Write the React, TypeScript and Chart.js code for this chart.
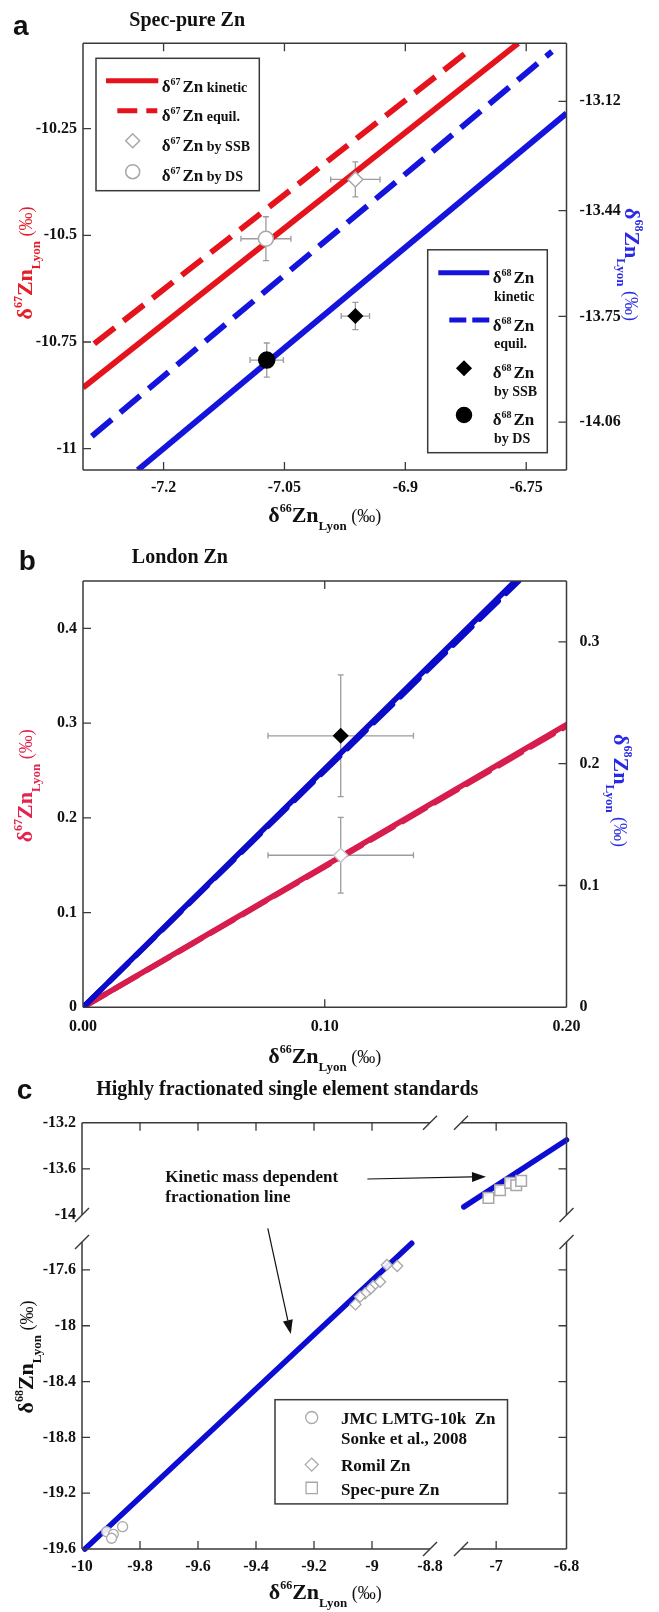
import React, { useEffect, useRef } from 'react';
import { Chart, registerables } from 'chart.js';

Chart.register(...registerables);

const SERIF = '"Liberation Serif", "Times New Roman", serif';
const SANS = '"Liberation Sans", Arial, sans-serif';

// ---------------- Panel a : Spec-pure Zn ----------------
const A_X_TICKS = [-7.2, -7.05, -6.9, -6.75];
const A_X_LABELS = ['-7.2', '-7.05', '-6.9', '-6.75'];
const A_Y67_TICKS = [-10.25, -10.5, -10.75, -11];
const A_Y67_LABELS = ['-10.25', '-10.5', '-10.75', '-11'];
const A_Y68_TICKS = [-13.12, -13.44, -13.75, -14.06];
const A_Y68_LABELS = ['-13.12', '-13.44', '-13.75', '-14.06'];
const A_KIN67_X = [-7.3, -6.76];
const A_KIN67_Y = [-10.857, -10.05];
const A_EQ67_X = [-7.286, -6.817];
const A_EQ67_Y = [-10.754, -10.061];
const A_KIN68_X = [-7.232, -6.7];
const A_KIN68_Y = [-14.2, -13.155];
const A_EQ68_X = [-7.289, -6.718];
const A_EQ68_Y = [-14.101, -12.974];
// measured points: [by SSB, by DS]
const A_D67_X = [-6.962, -7.073];
const A_D67_Y = [-10.369, -10.508];
const A_D67_XERR = [0.0306, 0.031];
const A_D67_YERR = [0.041, 0.0515];
const A_D68_X = [-6.962, -7.072];
const A_D68_Y = [-13.749, -13.878];
const A_D68_XERR = [0.0176, 0.0207];
const A_D68_YERR = [0.04, 0.05];

// ---------------- Panel b : London Zn ----------------
const B_X_TICKS = [0, 0.1, 0.2];
const B_X_LABELS = ['0.00', '0.10', '0.20'];
const B_Y67_TICKS = [0, 0.1, 0.2, 0.3, 0.4];
const B_Y67_LABELS = ['0', '0.1', '0.2', '0.3', '0.4'];
const B_Y68_TICKS = [0, 0.1, 0.2, 0.3];
const B_Y68_LABELS = ['0', '0.1', '0.2', '0.3'];
const B_KIN67_X = [0, 0.2];
const B_KIN67_Y = [0, 0.2985];
const B_EQ67_X = [0, 0.2];
const B_EQ67_Y = [0, 0.2968];
const B_KIN68_X = [0, 0.1788];
const B_KIN68_Y = [0, 0.35];
const B_EQ68_X = [0, 0.1802];
const B_EQ68_Y = [0, 0.35];
const B_SSB67_X = [0.1066];
const B_SSB67_Y = [0.1605];
const B_SSB67_XERR = [0.0301];
const B_SSB67_YERR = [0.04];
const B_SSB68_X = [0.1066];
const B_SSB68_Y = [0.2229];
const B_SSB68_XERR = [0.0301];
const B_SSB68_YERR = [0.05];

// ---------------- Panel c : Highly fractionated standards ----------------
const C_L_X_TICKS = [-10, -9.8, -9.6, -9.4, -9.2, -9, -8.8];
const C_L_X_LABELS = ['-10', '-9.8', '-9.6', '-9.4', '-9.2', '-9', '-8.8'];
const C_R_X_TICKS = [-7, -6.8];
const C_R_X_LABELS = ['-7', '-6.8'];
const C_T_Y_TICKS = [-13.2, -13.6, -14];
const C_T_Y_LABELS = ['-13.2', '-13.6', '-14'];
const C_B_Y_TICKS = [-17.6, -18, -18.4, -18.8, -19.2, -19.6];
const C_B_Y_LABELS = ['-17.6', '-18', '-18.4', '-18.8', '-19.2', '-19.6'];
const C_LINE_B_X = [-9.99, -8.863];
const C_LINE_B_Y = [-19.6, -17.409];
const C_LINE_T_X = [-7.092, -6.8];
const C_LINE_T_Y = [-13.93, -13.35];
const C_JMC_X = [-9.915, -9.892, -9.898, -9.86];
const C_JMC_Y = [-19.476, -19.495, -19.523, -19.44];
const C_ROMIL_X = [-8.949, -8.913, -8.972, -8.996, -9.007, -9.024, -9.041, -9.057];
const C_ROMIL_Y = [-17.565, -17.572, -17.685, -17.715, -17.739, -17.768, -17.792, -17.847];
const C_SPEC_X = [-7.022, -6.989, -6.96, -6.943, -6.929];
const C_SPEC_Y = [-13.852, -13.785, -13.722, -13.742, -13.704];

// ---------------- styles ----------------
const RED = '#e5141c';
const BLUE = '#1414dc';
const CRIMSON = '#d61d4e';
const BLUE_B = '#0c0cc8';
const BLUE_C = '#0c0cd2';
const RED_T = '#e61e28';
const BLUE_T = '#2a2ae6';
const CRIMSON_T = '#e3244f';
const GRAY_MK = '#a8a8a8';
const ERR = '#9c9c9c';
const FRAME = '#3a3a3a';
const INK = '#111111';

type Seg = { t: string; f: string; dy?: number; dx?: number; c?: string };
const B = (px: number) => `bold ${px}px ${SERIF}`;
const N = (px: number) => `${px}px ${SERIF}`;

function rich(ctx: any, x: number, y: number, segs: Seg[], rot = 0, align = 'left', color = INK) {
  ctx.save();
  ctx.translate(x, y);
  ctx.rotate(rot);
  ctx.textBaseline = 'alphabetic';
  ctx.textAlign = 'left';
  const widths = segs.map((s) => {
    ctx.font = s.f;
    return ctx.measureText(s.t).width + (s.dx || 0);
  });
  const total = widths.reduce((p, q) => p + q, 0);
  let cx = align === 'center' ? -total / 2 : 0;
  segs.forEach((s, i) => {
    ctx.font = s.f;
    ctx.fillStyle = s.c || color;
    ctx.fillText(s.t, cx + (s.dx || 0), s.dy || 0);
    cx += widths[i];
  });
  ctx.restore();
}

function deltaTitle(iso: string): Seg[] {
  return [
    { t: 'δ', f: B(22) },
    { t: iso, f: B(12), dy: -10 },
    { t: 'Zn', f: B(22) },
    { t: 'Lyon', f: B(13), dy: 8 },
    { t: ' (‰)', f: N(18) },
  ];
}

function dl(iso: string, rest?: string): Seg[] {
  const s: Seg[] = [
    { t: 'δ', f: B(17) },
    { t: iso, f: B(10), dy: -7 },
    { t: 'Zn', f: B(17), dx: 2 },
  ];
  if (rest) s.push({ t: ' ' + rest, f: B(14) });
  return s;
}

function frameSides(ctx: any, a: any, sides: string) {
  ctx.save();
  ctx.strokeStyle = FRAME;
  ctx.lineWidth = 1.5;
  ctx.beginPath();
  if (sides.includes('t')) { ctx.moveTo(a.left, a.top); ctx.lineTo(a.right, a.top); }
  if (sides.includes('b')) { ctx.moveTo(a.left, a.bottom); ctx.lineTo(a.right, a.bottom); }
  if (sides.includes('l')) { ctx.moveTo(a.left, a.top); ctx.lineTo(a.left, a.bottom); }
  if (sides.includes('r')) { ctx.moveTo(a.right, a.top); ctx.lineTo(a.right, a.bottom); }
  ctx.stroke();
  ctx.restore();
}

function innerTicks(ctx: any, chart: any, id: string, sides: string[], vals: number[], len = 8) {
  const s = chart.scales[id];
  const a = chart.chartArea;
  ctx.save();
  ctx.strokeStyle = FRAME;
  ctx.lineWidth = 1.3;
  ctx.beginPath();
  vals.forEach((v) => {
    if (v <= s.min + 1e-9 || v >= s.max - 1e-9) return;
    const p = s.getPixelForValue(v);
    sides.forEach((side) => {
      if (side === 'bottom') { ctx.moveTo(p, a.bottom); ctx.lineTo(p, a.bottom - len); }
      else if (side === 'top') { ctx.moveTo(p, a.top); ctx.lineTo(p, a.top + len); }
      else if (side === 'left') { ctx.moveTo(a.left, p); ctx.lineTo(a.left + len, p); }
      else { ctx.moveTo(a.right, p); ctx.lineTo(a.right - len, p); }
    });
  });
  ctx.stroke();
  ctx.restore();
}

function slash(ctx: any, x: number, y: number) {
  ctx.save();
  ctx.strokeStyle = FRAME;
  ctx.lineWidth = 1.5;
  ctx.beginPath();
  ctx.moveTo(x - 7, y + 7);
  ctx.lineTo(x + 7, y - 7);
  ctx.stroke();
  ctx.restore();
}

function errBars(ctx: any, chart: any, yId: string, xs: number[], ys: number[], exs: number[], eys: number[]) {
  const sx = chart.scales.x;
  const sy = chart.scales[yId];
  ctx.save();
  ctx.strokeStyle = ERR;
  ctx.lineWidth = 1.3;
  const cap = 3;
  xs.forEach((x, i) => {
    const px = sx.getPixelForValue(x);
    const py = sy.getPixelForValue(ys[i]);
    const x0 = sx.getPixelForValue(x - exs[i]);
    const x1 = sx.getPixelForValue(x + exs[i]);
    const y0 = sy.getPixelForValue(ys[i] - eys[i]);
    const y1 = sy.getPixelForValue(ys[i] + eys[i]);
    ctx.beginPath();
    ctx.moveTo(x0, py); ctx.lineTo(x1, py);
    ctx.moveTo(px, y0); ctx.lineTo(px, y1);
    ctx.moveTo(x0, py - cap); ctx.lineTo(x0, py + cap);
    ctx.moveTo(x1, py - cap); ctx.lineTo(x1, py + cap);
    ctx.moveTo(px - cap, y0); ctx.lineTo(px + cap, y0);
    ctx.moveTo(px - cap, y1); ctx.lineTo(px + cap, y1);
    ctx.stroke();
  });
  ctx.restore();
}

function marker(ctx: any, style: string, x: number, y: number, r: number, fill: string, stroke: string, lw = 1.5) {
  ctx.save();
  ctx.beginPath();
  if (style === 'circle') ctx.arc(x, y, r, 0, Math.PI * 2);
  else if (style === 'diamond') {
    ctx.moveTo(x - r, y); ctx.lineTo(x, y - r); ctx.lineTo(x + r, y); ctx.lineTo(x, y + r); ctx.closePath();
  } else {
    const h = r * Math.SQRT1_2;
    ctx.rect(x - h, y - h, 2 * h, 2 * h);
  }
  ctx.fillStyle = fill;
  ctx.fill();
  ctx.lineWidth = lw;
  ctx.strokeStyle = stroke;
  ctx.stroke();
  ctx.restore();
}

function hline(ctx: any, x0: number, x1: number, y: number, color: string, w: number, dash: number[]) {
  ctx.save();
  ctx.strokeStyle = color;
  ctx.lineWidth = w;
  ctx.setLineDash(dash);
  ctx.beginPath();
  ctx.moveTo(x0, y);
  ctx.lineTo(x1, y);
  ctx.stroke();
  ctx.restore();
}

function box(ctx: any, x0: number, y0: number, x1: number, y1: number) {
  ctx.save();
  ctx.fillStyle = '#ffffff';
  ctx.fillRect(x0, y0, x1 - x0, y1 - y0);
  ctx.strokeStyle = FRAME;
  ctx.lineWidth = 1.5;
  ctx.strokeRect(x0, y0, x1 - x0, y1 - y0);
  ctx.restore();
}

function arrow(ctx: any, x0: number, y0: number, x1: number, y1: number, head = 14, half = 5) {
  const ang = Math.atan2(y1 - y0, x1 - x0);
  const bx = x1 - head * Math.cos(ang);
  const by = y1 - head * Math.sin(ang);
  ctx.save();
  ctx.strokeStyle = '#111';
  ctx.fillStyle = '#111';
  ctx.lineWidth = 1.2;
  ctx.beginPath();
  ctx.moveTo(x0, y0);
  ctx.lineTo(bx, by);
  ctx.stroke();
  ctx.beginPath();
  ctx.moveTo(x1, y1);
  ctx.lineTo(bx + half * Math.sin(ang), by - half * Math.cos(ang));
  ctx.lineTo(bx - half * Math.sin(ang), by + half * Math.cos(ang));
  ctx.closePath();
  ctx.fill();
  ctx.restore();
}

function axis(position: string, min: number, max: number, ticks: number[], labels: string[] | null, size: number, pad = 6) {
  const horiz = position === 'bottom' || position === 'top';
  return {
    type: 'linear',
    position,
    min,
    max,
    afterBuildTicks: (s: any) => {
      s.ticks = ticks.map((v) => ({ value: v }));
    },
    afterFit: (s: any) => {
      if (horiz) s.height = size;
      else s.width = size;
    },
    grid: { display: false, drawTicks: false },
    border: { display: false },
    ticks: {
      display: labels !== null,
      autoSkip: false,
      maxRotation: 0,
      minRotation: 0,
      padding: pad,
      color: INK,
      font: { family: SERIF, size: 16, weight: 'bold' },
      callback: (_v: any, i: number) => (labels ? labels[i] : ''),
    },
  };
}

const pts = (xs: number[], ys: number[]) => xs.map((x, i) => ({ x, y: ys[i] }));

function lineSet(xs: number[], ys: number[], color: string, width: number, dash: number[], yAxisID = 'y', cap = 'butt', clip: any = 0) {
  return {
    type: 'scatter',
    data: pts(xs, ys),
    showLine: true,
    borderColor: color,
    backgroundColor: color,
    borderWidth: width,
    borderDash: dash,
    borderCapStyle: cap,
    pointRadius: 0,
    pointHoverRadius: 0,
    pointHitRadius: 0,
    xAxisID: 'x',
    yAxisID,
    clip,
    order: 5,
  };
}

function pointSet(xs: number[], ys: number[], style: string, r: number, fill: string, stroke: string, yAxisID = 'y', lw = 1.5) {
  return {
    type: 'scatter',
    data: pts(xs, ys),
    showLine: false,
    pointStyle: style,
    pointRadius: r,
    pointHoverRadius: r,
    pointBackgroundColor: fill,
    pointBorderColor: stroke,
    pointBorderWidth: lw,
    backgroundColor: fill,
    borderColor: stroke,
    borderWidth: lw,
    xAxisID: 'x',
    yAxisID,
    clip: false,
    order: 1,
  };
}

function makeChart(canvas: any, padding: any, scales: any, datasets: any[], plugin: any) {
  return new Chart(canvas, {
    type: 'scatter',
    data: { datasets },
    options: {
      responsive: false,
      maintainAspectRatio: false,
      animation: false,
      events: [],
      layout: { padding },
      plugins: { legend: { display: false }, tooltip: { enabled: false } },
      scales,
    },
    plugins: [plugin],
  } as any);
}

// ---------------- Panel builders ----------------
function buildA(canvas: any) {
  const W = 659, H = 545;
  const plugin = {
    id: 'decoA',
    beforeDatasetsDraw(chart: any) {
      const ctx = chart.ctx;
      errBars(ctx, chart, 'y', A_D67_X, A_D67_Y, A_D67_XERR, A_D67_YERR);
      errBars(ctx, chart, 'y2', A_D68_X, A_D68_Y, A_D68_XERR, A_D68_YERR);
    },
    afterDraw(chart: any) {
      const ctx = chart.ctx;
      const a = chart.chartArea;
      frameSides(ctx, a, 'tblr');
      innerTicks(ctx, chart, 'x', ['bottom', 'top'], A_X_TICKS);
      innerTicks(ctx, chart, 'y', ['left'], A_Y67_TICKS);
      innerTicks(ctx, chart, 'y2', ['right'], A_Y68_TICKS);
      // legend 1
      box(ctx, 96, 58.3, 259.3, 190.7);
      hline(ctx, 106, 158.3, 80.7, RED, 5, []);
      rich(ctx, 161.7, 91.7, dl('67', 'kinetic'));
      hline(ctx, 117.3, 157.3, 110.7, RED, 5, [20, 9]);
      rich(ctx, 161.7, 120.7, dl('67', 'equil.'));
      marker(ctx, 'diamond', 132.7, 140.7, 7, '#ffffff', GRAY_MK);
      rich(ctx, 161.7, 150.7, dl('67', 'by SSB'));
      marker(ctx, 'circle', 132.7, 171.7, 7, '#ffffff', GRAY_MK);
      rich(ctx, 161.7, 180.7, dl('67', 'by DS'));
      // legend 2
      box(ctx, 427.7, 249.8, 547.3, 452.7);
      hline(ctx, 438.3, 489.3, 272.7, BLUE, 5, []);
      rich(ctx, 492.7, 283.3, dl('68'));
      rich(ctx, 494, 300.7, [{ t: 'kinetic', f: B(14) }]);
      hline(ctx, 449.3, 489.3, 320, BLUE, 5, [17, 6]);
      rich(ctx, 492.7, 330.7, dl('68'));
      rich(ctx, 494, 348.3, [{ t: 'equil.', f: B(14) }]);
      marker(ctx, 'diamond', 464, 368.3, 7, '#000000', '#000000');
      rich(ctx, 492.7, 378.3, dl('68'));
      rich(ctx, 494, 396, [{ t: 'by SSB', f: B(14) }]);
      marker(ctx, 'circle', 464, 415, 7.5, '#000000', '#000000');
      rich(ctx, 492.7, 425, dl('68'));
      rich(ctx, 494, 442.7, [{ t: 'by DS', f: B(14) }]);
      // titles
      rich(ctx, 13, 35, [{ t: 'a', f: `bold 28px ${SANS}` }]);
      rich(ctx, 129.3, 26, [{ t: 'Spec-pure Zn', f: B(20) }]);
      rich(ctx, (a.left + a.right) / 2, 522, deltaTitle('66'), 0, 'center');
      rich(ctx, 31.5, 263, deltaTitle('67'), -Math.PI / 2, 'center', RED_T);
      rich(ctx, 625, 264.5, deltaTitle('68'), Math.PI / 2, 'center', BLUE_T);
    },
  };
  return makeChart(
    canvas,
    { top: 43.3, left: 0, right: 0, bottom: 0 },
    {
      x: axis('bottom', -7.3, -6.7, A_X_TICKS, A_X_LABELS, H - 470, 8),
      y: axis('left', -11.05, -10.05, A_Y67_TICKS, A_Y67_LABELS, 83, 6),
      y2: axis('right', -14.2, -12.95, A_Y68_TICKS, A_Y68_LABELS, W - 566.5, 13),
    },
    [
      pointSet([A_D67_X[0]], [A_D67_Y[0]], 'rectRot', 7.5, '#ffffff', GRAY_MK, 'y'),
      pointSet([A_D67_X[1]], [A_D67_Y[1]], 'circle', 7.5, '#ffffff', GRAY_MK, 'y'),
      pointSet([A_D68_X[0]], [A_D68_Y[0]], 'rectRot', 7, '#000000', '#000000', 'y2'),
      pointSet([A_D68_X[1]], [A_D68_Y[1]], 'circle', 8, '#000000', '#000000', 'y2'),
      lineSet(A_KIN67_X, A_KIN67_Y, RED, 5.8, [], 'y'),
      lineSet(A_EQ67_X, A_EQ67_Y, RED, 5.8, [26, 11], 'y'),
      lineSet(A_KIN68_X, A_KIN68_Y, BLUE, 5.8, [], 'y2'),
      lineSet(A_EQ68_X, A_EQ68_Y, BLUE, 5.8, [26, 11], 'y2'),
    ],
    plugin
  );
}

function buildB(canvas: any) {
  const W = 659, H = 530;
  const plugin = {
    id: 'decoB',
    beforeDatasetsDraw(chart: any) {
      const ctx = chart.ctx;
      errBars(ctx, chart, 'y', B_SSB67_X, B_SSB67_Y, B_SSB67_XERR, B_SSB67_YERR);
      errBars(ctx, chart, 'y2', B_SSB68_X, B_SSB68_Y, B_SSB68_XERR, B_SSB68_YERR);
    },
    afterDraw(chart: any) {
      const ctx = chart.ctx;
      const a = chart.chartArea;
      frameSides(ctx, a, 'tblr');
      innerTicks(ctx, chart, 'x', ['bottom', 'top'], B_X_TICKS);
      innerTicks(ctx, chart, 'y', ['left'], B_Y67_TICKS);
      innerTicks(ctx, chart, 'y2', ['right'], B_Y68_TICKS);
      rich(ctx, 18.8, 25, [{ t: 'b', f: `bold 28px ${SANS}` }]);
      rich(ctx, 131.8, 18.3, [{ t: 'London Zn', f: B(20) }]);
      rich(ctx, (a.left + a.right) / 2, 518, deltaTitle('66'), 0, 'center');
      rich(ctx, 31.5, 240.8, deltaTitle('67'), -Math.PI / 2, 'center', CRIMSON_T);
      rich(ctx, 614, 245.6, deltaTitle('68'), Math.PI / 2, 'center', BLUE_T);
    },
  };
  return makeChart(
    canvas,
    { top: 36, left: 0, right: 0, bottom: 0 },
    {
      x: axis('bottom', 0, 0.2, B_X_TICKS, B_X_LABELS, H - 462.3, 10),
      y: axis('left', 0, 0.45, B_Y67_TICKS, B_Y67_LABELS, 83, 6),
      y2: axis('right', 0, 0.35, B_Y68_TICKS, B_Y68_LABELS, W - 566.5, 13),
    },
    [
      pointSet(B_SSB68_X, B_SSB68_Y, 'rectRot', 7, '#000000', '#000000', 'y2'),
      pointSet(B_SSB67_X, B_SSB67_Y, 'rectRot', 7, '#ffffff', '#c8c8c8', 'y'),
      lineSet(B_KIN68_X, B_KIN68_Y, BLUE_B, 5.5, [], 'y2', 'round'),
      lineSet(B_EQ68_X, B_EQ68_Y, BLUE_B, 5.5, [26, 11], 'y2', 'round'),
      lineSet(B_KIN67_X, B_KIN67_Y, CRIMSON, 5.5, [], 'y', 'round'),
      lineSet(B_EQ67_X, B_EQ67_Y, CRIMSON, 5.5, [26, 11], 'y', 'round'),
    ],
    plugin
  );
}

const CH = 537;
const C_LEFT = 82;
const C_MID_L = 430;
const C_MID_R = 461;
const C_RIGHT = 566.5;
const C_TOP = 47.7;
const C_MID_T = 140;
const C_MID_B = 167;
const C_BOT = 474;

function buildCTL(canvas: any) {
  const plugin = {
    id: 'decoCTL',
    afterDraw(chart: any) {
      const ctx = chart.ctx;
      const a = chart.chartArea;
      frameSides(ctx, a, 'tl');
      innerTicks(ctx, chart, 'x', ['top'], C_L_X_TICKS);
      innerTicks(ctx, chart, 'y', ['left'], C_T_Y_TICKS);
      slash(ctx, a.right, a.top);
      slash(ctx, a.left, a.bottom);
    },
  };
  return makeChart(
    canvas,
    { top: C_TOP, left: 0, right: 659 - C_MID_L, bottom: 0 },
    {
      x: axis('bottom', -10, -8.8, C_L_X_TICKS, null, CH - C_MID_T, 0),
      y: axis('left', -14, -13.2, C_T_Y_TICKS, C_T_Y_LABELS, C_LEFT, 6),
    },
    [],
    plugin
  );
}

function buildCTR(canvas: any) {
  const plugin = {
    id: 'decoCTR',
    afterDraw(chart: any) {
      const ctx = chart.ctx;
      const a = chart.chartArea;
      frameSides(ctx, a, 'tr');
      innerTicks(ctx, chart, 'x', ['top'], C_R_X_TICKS);
      innerTicks(ctx, chart, 'y', ['right'], C_T_Y_TICKS);
      slash(ctx, a.left, a.top);
      slash(ctx, a.right, a.bottom);
    },
  };
  return makeChart(
    canvas,
    { top: C_TOP, left: C_MID_R, right: 659 - C_RIGHT, bottom: 0 },
    {
      x: axis('bottom', -7.1, -6.8, C_R_X_TICKS, null, CH - C_MID_T, 0),
      y: axis('left', -14, -13.2, C_T_Y_TICKS, null, 0, 0),
    },
    [
      pointSet(C_SPEC_X, C_SPEC_Y, 'rect', 7.5, 'rgba(255,255,255,0.9)', GRAY_MK, 'y', 1.5),
      lineSet(C_LINE_T_X, C_LINE_T_Y, BLUE_C, 5.5, [], 'y', 'round', false),
    ],
    plugin
  );
}

function buildCBL(canvas: any) {
  const plugin = {
    id: 'decoCBL',
    afterDraw(chart: any) {
      const ctx = chart.ctx;
      const a = chart.chartArea;
      frameSides(ctx, a, 'lb');
      innerTicks(ctx, chart, 'x', ['bottom'], C_L_X_TICKS);
      innerTicks(ctx, chart, 'y', ['left'], C_B_Y_TICKS);
      slash(ctx, a.left, a.top);
      slash(ctx, a.right, a.bottom);
    },
  };
  return makeChart(
    canvas,
    { top: C_MID_B, left: 0, right: 659 - C_MID_L, bottom: 0 },
    {
      x: axis('bottom', -10, -8.8, C_L_X_TICKS, C_L_X_LABELS, CH - C_BOT, 8),
      y: axis('left', -19.6, -17.4, C_B_Y_TICKS, C_B_Y_LABELS, C_LEFT, 6),
    },
    [
      pointSet(C_JMC_X, C_JMC_Y, 'circle', 5, 'rgba(255,255,255,0.9)', GRAY_MK, 'y', 1.3),
      pointSet(C_ROMIL_X, C_ROMIL_Y, 'rectRot', 5.5, 'rgba(255,255,255,0.9)', GRAY_MK, 'y', 1.3),
      lineSet(C_LINE_B_X, C_LINE_B_Y, BLUE_C, 5.5, [], 'y', 'round', false),
    ],
    plugin
  );
}

function buildCBR(canvas: any) {
  const plugin = {
    id: 'decoCBR',
    afterDraw(chart: any) {
      const ctx = chart.ctx;
      const a = chart.chartArea;
      frameSides(ctx, a, 'rb');
      innerTicks(ctx, chart, 'x', ['bottom'], C_R_X_TICKS);
      innerTicks(ctx, chart, 'y', ['right'], C_B_Y_TICKS);
      slash(ctx, a.right, a.top);
      slash(ctx, a.left, a.bottom);
      // panel level texts
      rich(ctx, 16.7, 23.6, [{ t: 'c', f: `bold 28px ${SANS}` }]);
      rich(ctx, 96.2, 20, [{ t: 'Highly fractionated single element standards', f: B(20) }]);
      rich(ctx, (C_LEFT + C_RIGHT) / 2 + 1, 524, deltaTitle('66'), 0, 'center');
      rich(ctx, 33, 282, deltaTitle('68'), -Math.PI / 2, 'center', INK);
      // annotation
      rich(ctx, 165.3, 107, [{ t: 'Kinetic mass dependent', f: B(17) }]);
      rich(ctx, 165.3, 126.6, [{ t: 'fractionation line', f: B(17) }]);
      arrow(ctx, 367.4, 104, 486, 101.7);
      arrow(ctx, 267.8, 153.4, 290.8, 259);
      // legend
      box(ctx, 275, 324.7, 507.5, 428.9);
      marker(ctx, 'circle', 311.7, 342.5, 6, '#ffffff', GRAY_MK, 1.3);
      rich(ctx, 341, 349.2, [{ t: 'JMC LMTG-10k  Zn', f: B(17) }]);
      rich(ctx, 341, 368.9, [{ t: 'Sonke et al., 2008', f: B(17) }]);
      marker(ctx, 'diamond', 311.7, 389.6, 6.5, '#ffffff', GRAY_MK, 1.3);
      rich(ctx, 341, 395.6, [{ t: 'Romil Zn', f: B(17) }]);
      marker(ctx, 'square', 311.7, 412.9, 8, '#ffffff', GRAY_MK, 1.3);
      rich(ctx, 341, 419.6, [{ t: 'Spec-pure Zn', f: B(17) }]);
    },
  };
  return makeChart(
    canvas,
    { top: C_MID_B, left: C_MID_R, right: 659 - C_RIGHT, bottom: 0 },
    {
      x: axis('bottom', -7.1, -6.8, C_R_X_TICKS, C_R_X_LABELS, CH - C_BOT, 8),
      y: axis('left', -19.6, -17.4, C_B_Y_TICKS, null, 0, 0),
    },
    [],
    plugin
  );
}

export default function App() {
  const refA = useRef<HTMLCanvasElement | null>(null);
  const refB = useRef<HTMLCanvasElement | null>(null);
  const refTL = useRef<HTMLCanvasElement | null>(null);
  const refTR = useRef<HTMLCanvasElement | null>(null);
  const refBL = useRef<HTMLCanvasElement | null>(null);
  const refBR = useRef<HTMLCanvasElement | null>(null);

  useEffect(() => {
    const charts = [
      buildA(refA.current),
      buildB(refB.current),
      buildCTL(refTL.current),
      buildCTR(refTR.current),
      buildCBL(refBL.current),
      buildCBR(refBR.current),
    ];
    return () => charts.forEach((c) => c.destroy());
  }, []);

  const cv = (top: number, h: number): any => ({ position: 'absolute', left: 0, top, width: 659, height: h, display: 'block' });

  return (
    <div style={{ position: 'absolute', left: 0, top: 0, width: 659, height: 1612, background: '#ffffff', overflow: 'hidden' }}>
      <canvas ref={refA} width={659} height={545} style={cv(0, 545)} />
      <canvas ref={refB} width={659} height={530} style={cv(545, 530)} />
      <canvas ref={refTL} width={659} height={CH} style={cv(1075, CH)} />
      <canvas ref={refTR} width={659} height={CH} style={cv(1075, CH)} />
      <canvas ref={refBL} width={659} height={CH} style={cv(1075, CH)} />
      <canvas ref={refBR} width={659} height={CH} style={cv(1075, CH)} />
    </div>
  );
}
